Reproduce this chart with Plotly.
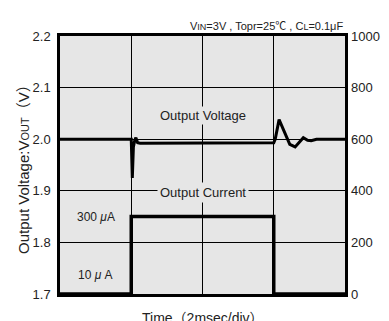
import plotly.graph_objects as go

# Output voltage trace (time in ms, volts)
t_volt = [0, 2.0, 2.03, 2.06, 2.1, 2.13, 2.18, 2.25, 6.0, 6.04, 6.15, 6.3, 6.45, 6.6, 6.72, 6.83, 6.95, 7.05, 7.2, 8.0]
v_out = [2.0, 2.0, 1.925, 1.985, 1.998, 2.003, 1.993, 1.992, 1.993, 2.0, 2.038, 2.015, 1.99, 1.985, 1.994, 2.003, 1.998, 1.997, 2.0, 2.0]

# Output current trace (time in ms, mA on right axis)
t_curr = [0, 2.0, 2.0, 6.0, 6.0, 8.0]
i_out = [0, 0, 300, 300, 0, 0]

y_ticks = [1.7, 1.8, 1.9, 2.0, 2.1, 2.2]
y2_ticks = [0, 200, 400, 600, 800, 1000]

FONT = "Liberation Sans, Arial, Noto Sans CJK JP, sans-serif"

fig = go.Figure()
fig.add_trace(go.Scatter(x=t_curr, y=i_out, yaxis="y2", mode="lines",
                         line=dict(color="black", width=3.5), showlegend=False))
fig.add_trace(go.Scatter(x=t_volt, y=v_out, mode="lines",
                         line=dict(color="black", width=3), showlegend=False))

small = '<span style="font-size:9px">{}</span>'

fig.update_layout(
    width=389, height=321,
    margin=dict(l=52, r=52, t=28, b=35),
    paper_bgcolor="white",
    plot_bgcolor="#e6e6e6",
    font=dict(family=FONT, size=13, color="#222"),
    xaxis=dict(range=[0, 8], dtick=2, showticklabels=False, showgrid=True,
               gridcolor="black", gridwidth=1, zeroline=False,
               showline=True, linecolor="black", linewidth=2.5, mirror=True,
               ticks=""),
    yaxis=dict(range=[1.7, 2.2], tickvals=y_ticks,
               ticktext=[f"{v:.1f}" for v in y_ticks],
               showgrid=True, gridcolor="black", gridwidth=1, zeroline=False,
               showline=True, linecolor="black", linewidth=2.5, mirror=True,
               ticks="", ticklabelstandoff=4),
    yaxis2=dict(range=[0, 1000], tickvals=y2_ticks, overlaying="y", side="right",
                showgrid=False, zeroline=False, ticks="", ticklabelstandoff=5),
)

annotations = [
    dict(x=1, y=1, xref="paper", yref="paper", xanchor="right", yanchor="bottom",
         yshift=2, showarrow=False, font=dict(size=11),
         text="V" + small.format("IN") + "=3V , Topr=25℃ , C" + small.format("L") + "=0.1μF"),
    dict(x=-0.13, y=0.5, xref="paper", yref="paper", xanchor="center", yanchor="middle",
         textangle=-90, showarrow=False, font=dict(size=15),
         text="Output Voltage:V" + '<span style="font-size:11px">OUT</span>' + "（V）"),
    dict(x=1.172, y=0.5, xref="paper", yref="paper", xanchor="center", yanchor="middle",
         textangle=-90, showarrow=False, font=dict(size=15),
         text="Output Current:I" + '<span style="font-size:11px">OUT</span>' + "（mA）"),
    dict(x=0.5, y=-0.093, xref="paper", yref="paper", yanchor="middle", showarrow=False,
         font=dict(size=14), text="Time（2msec/div）"),
    dict(x=4, y=2.045, showarrow=False, font=dict(size=13), bgcolor="#e6e6e6",
         text="Output Voltage"),
    dict(x=4, y=1.897, showarrow=False, font=dict(size=13), bgcolor="#e6e6e6",
         borderpad=2, text="Output Current"),
    dict(x=1.0, y=1.85, showarrow=False, font=dict(size=12), text="300 <i>μ</i>A"),
    dict(x=1.0, y=1.737, showarrow=False, font=dict(size=12), text="10 <i>μ</i> A"),
]
fig.update_layout(annotations=annotations)

fig.write_html("out.html")
